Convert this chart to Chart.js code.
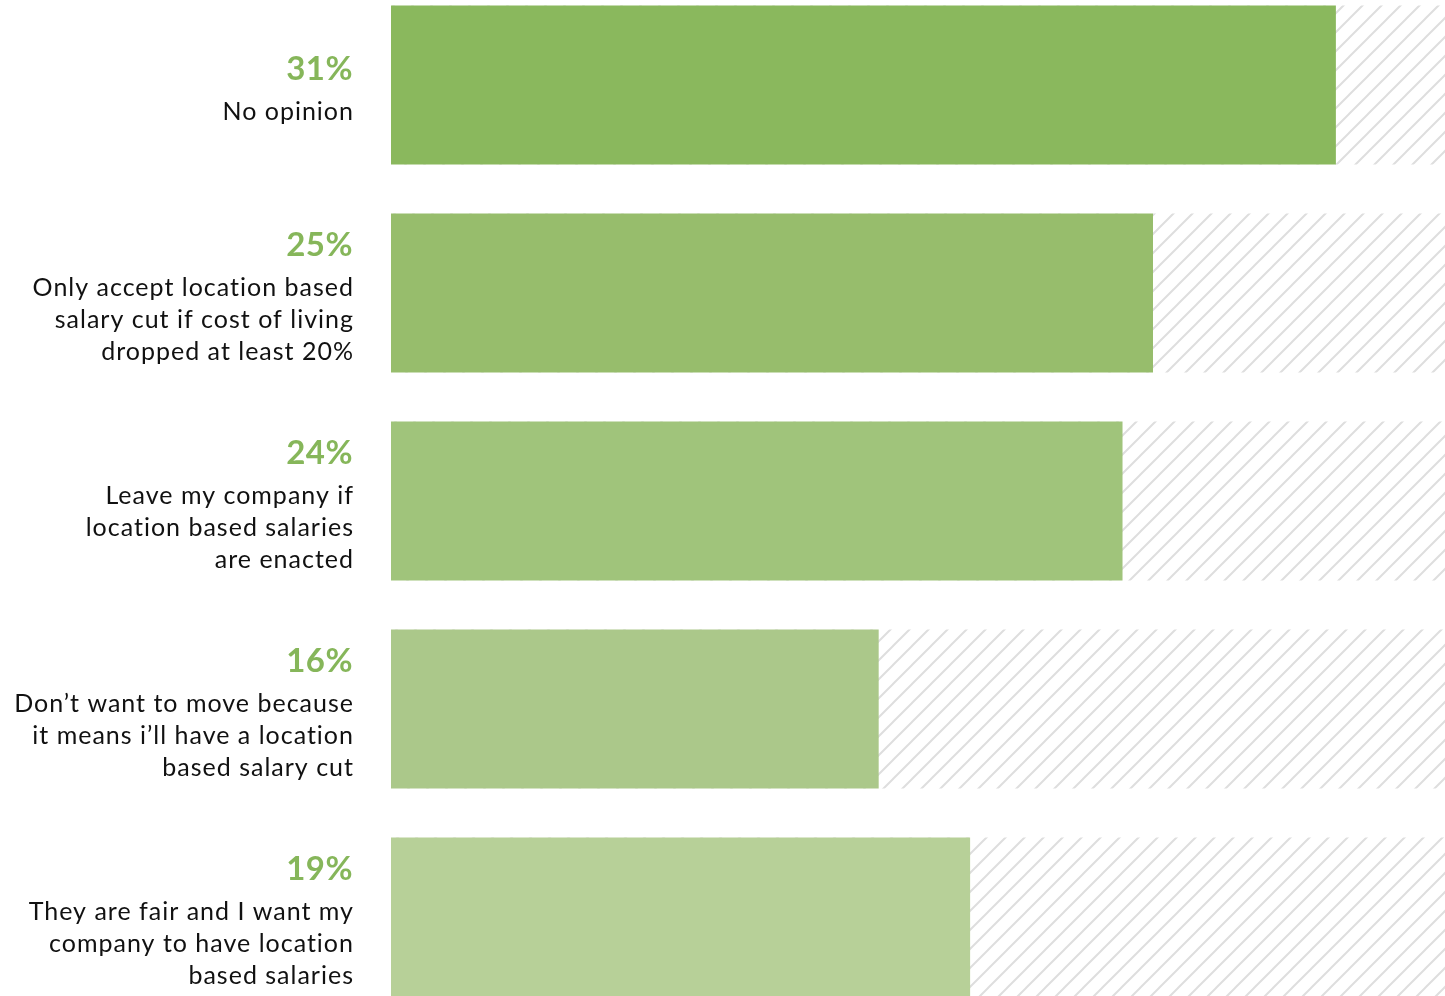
<!DOCTYPE html>
<html>
<head>
<meta charset="utf-8">
<script src="https://cdn.jsdelivr.net/npm/chart.js@4.4.0/dist/chart.umd.min.js"></script>
<style>
  html, body { margin: 0; padding: 0; background: #fff; overflow: hidden; }
  #wrap { position: relative; width: 1445px; height: 996px; overflow: hidden; }
  #answers { position: absolute; left: 0; top: -19px; }
</style>
</head>
<body>
<div id="wrap">
  <canvas id="answers" width="1445" height="1040"></canvas>
</div>
<script>
const answers = [
  ["No opinion"],
  ["Only accept location based", "salary cut if cost of living", "dropped at least 20%"],
  ["Leave my company if", "location based salaries", "are enacted"],
  ["Don\u2019t want to move because", "it means i\u2019ll have a location", "based salary cut"],
  ["They are fair and I want my", "company to have location", "based salaries"]
];
const shares = [31, 25, 24, 16, 19];
const barColors = ['#8ab85d', '#97bd6c', '#a0c47b', '#abc88a', '#b7d098'];
const scaleMax = 34.58;

// grey diagonal stripes for the empty part of each bar
function stripes() {
  const s = 19;
  const c = document.createElement('canvas');
  c.width = s; c.height = s;
  const g = c.getContext('2d');
  g.strokeStyle = '#dedede';
  g.lineWidth = 2;
  g.beginPath();
  g.moveTo(-2, s + 2); g.lineTo(s + 2, -2);
  g.moveTo(-2, 2); g.lineTo(2, -2);
  g.moveTo(s - 2, s + 2); g.lineTo(s + 2, s - 2);
  g.stroke();
  return g.createPattern(c, 'repeat');
}

const sideLabels = {
  id: 'sideLabels',
  afterDraw(chart) {
    const ctx = chart.ctx;
    const meta = chart.getDatasetMeta(0);
    ctx.save();
    ctx.textAlign = 'right';
    ctx.textBaseline = 'middle';
    meta.data.forEach((bar, i) => {
      const lines = answers[i];
      let y = bar.y - (44 + 32 * (lines.length - 1)) / 2 + 6;
      ctx.fillStyle = '#86b65a';
      ctx.font = 'bold 33px Lato';
      ctx.letterSpacing = '0.5px';
      ctx.fillText(shares[i] + '%', 353, y);
      y += 43;
      ctx.fillStyle = '#111';
      ctx.font = '25px Lato';
      ctx.letterSpacing = '1px';
      lines.forEach(l => { ctx.fillText(l, 354, y); y += 32; });
    });
    ctx.restore();
  }
};

new Chart(document.getElementById('answers'), {
  type: 'bar',
  data: {
    labels: answers.map(a => a.join(' ')),
    datasets: [{
      data: shares,
      backgroundColor: barColors,
      grouped: false,
      order: 0,
      barPercentage: 0.764,
      categoryPercentage: 1
    }, {
      data: shares.map(() => scaleMax),
      backgroundColor: stripes(),
      grouped: false,
      order: 1,
      barPercentage: 0.764,
      categoryPercentage: 1
    }]
  },
  options: {
    indexAxis: 'y',
    responsive: false,
    animation: false,
    devicePixelRatio: 1,
    layout: { padding: { left: 391, right: 0, top: 0, bottom: 0 } },
    plugins: { legend: { display: false }, tooltip: { enabled: false } },
    scales: {
      x: { display: false, min: 0, max: scaleMax },
      y: { display: false }
    }
  },
  plugins: [sideLabels]
});
</script>
</body>
</html>
